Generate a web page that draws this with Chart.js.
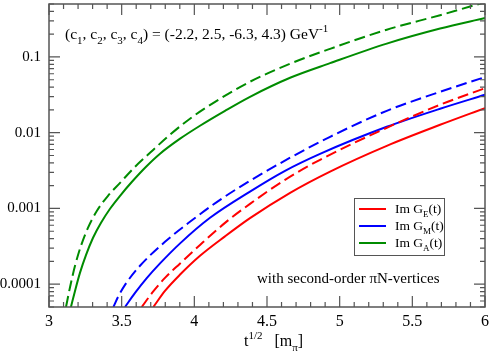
<!DOCTYPE html>
<html>
<head>
<meta charset="utf-8">
<script src="https://cdn.jsdelivr.net/npm/chart.js@4.4.1/dist/chart.umd.min.js"></script>
<style>
  html, body { margin: 0; padding: 0; background: #fff; }
</style>
</head>
<body>
<canvas id="chart" width="491" height="354"></canvas>
<script>
// sqrt(t) in units of m_pi, and Im G(t) values
const tGE = [3.718, 3.798, 3.902, 4.039, 4.211, 4.383, 4.659, 4.934, 5.324, 5.691, 6.0];
const imGE = [5.0e-5, 8.15e-5, 1.34e-4, 2.37e-4, 4.28e-4, 7.45e-4, 1.61e-3, 3.07e-3, 6.71e-3, 0.01271, 0.02113];
const tGEdash = [3.638, 3.709, 3.798, 3.902, 4.039, 4.211, 4.383, 4.624, 4.865, 5.324, 5.691, 6.0];
const imGEdash = [5.0e-5, 7.67e-5, 1.21e-4, 1.88e-4, 3.30e-4, 6.45e-4, 1.15e-3, 2.39e-3, 4.39e-3, 0.01161, 0.02339, 0.03864];

const tGM = [3.523, 3.592, 3.674, 3.764, 3.902, 4.108, 4.383, 4.624, 4.865, 5.324, 5.691, 6.0];
const imGM = [5.0e-5, 7.67e-5, 1.21e-4, 1.88e-4, 3.46e-4, 7.52e-4, 1.67e-3, 3.14e-3, 5.26e-3, 0.01197, 0.02070, 0.03167];
const tGMdash = [3.443, 3.475, 3.523, 3.626, 3.798, 3.970, 4.177, 4.383, 4.659, 4.934, 5.324, 5.691, 6.0];
const imGMdash = [5.0e-5, 6.79e-5, 9.79e-5, 1.75e-4, 3.63e-4, 6.67e-4, 1.30e-3, 2.32e-3, 4.67e-3, 8.83e-3, 0.01945, 0.03467, 0.0542];

const tGA = [3.151, 3.179, 3.213, 3.255, 3.303, 3.358, 3.420, 3.489, 3.571, 3.661, 3.764, 3.902,
             4.039, 4.211, 4.383, 4.659, 4.934, 5.324, 5.691, 6.0];
const imGA = [5.0e-5, 8.15e-5, 1.41e-4, 2.44e-4, 4.10e-4, 6.47e-4, 9.91e-4, 1.47e-3, 2.25e-3, 3.45e-3, 5.28e-3, 8.34e-3,
              0.01236, 0.01945, 0.02979, 0.0531, 0.0828, 0.150, 0.237, 0.327];
const tGAdash = [3.117, 3.145, 3.179, 3.220, 3.268, 3.330, 3.406, 3.489, 3.592, 3.695, 3.833, 3.970,
                 4.177, 4.383, 4.659, 4.934, 5.324, 5.691, 6.0];
const imGAdash = [5.0e-5, 9.2e-5, 1.75e-4, 3.21e-4, 5.55e-4, 9.31e-4, 1.47e-3, 2.18e-3, 3.55e-3, 5.43e-3, 9.41e-3, 0.01531,
                  0.02806, 0.0471, 0.0813, 0.128, 0.229, 0.356, 0.528];

const xTickValues = [3, 3.5, 4, 4.5, 5, 5.5, 6];
const xTickLabels = ['3', '3.5', '4', '4.5', '5', '5.5', '6'];
const yTickValues = [0.0001, 0.001, 0.01, 0.1];
const yTickLabels = ['0.0001', '0.001', '0.01', '0.1'];

const legendLabels = ['E', 'M', 'A'];
const colors = ['#ff0000', '#0000ff', '#008c00'];
const axisColor = '#555555';
const serif = '"Liberation Serif", "DejaVu Serif", serif';

function pts(xs, ys) {
    return xs.map((x, i) => ({ x: x, y: ys[i] }));
}

function line(xs, ys, color, dashed) {
    return {
        data: pts(xs, ys),
        borderColor: color,
        borderWidth: 2,
        borderDash: dashed ? [11, 5] : [],
        pointRadius: 0,
        fill: false,
        cubicInterpolationMode: 'monotone'
    };
}

// draws text runs with sub/superscripts, returns end x
function drawRich(ctx, parts, x, y, size) {
    parts.forEach(([txt, mode]) => {
        const fs = mode ? Math.round(size * 0.68) : size;
        ctx.font = fs + 'px ' + serif;
        let dy = 0;
        if (mode === 'sub') dy = size * 0.3;
        if (mode === 'sup') dy = -size * 0.42;
        ctx.fillText(txt, x, y + dy);
        x += ctx.measureText(txt).width;
    });
    return x;
}

const decorations = {
    id: 'decorations',
    afterDraw(chart) {
        const ctx = chart.ctx;
        const a = chart.chartArea;
        const xs = chart.scales.x, ys = chart.scales.y;
        ctx.save();

        // frame
        ctx.strokeStyle = axisColor;
        ctx.lineWidth = 1.5;
        ctx.strokeRect(a.left, a.top, a.right - a.left, a.bottom - a.top);

        // inward ticks on all four sides
        ctx.lineWidth = 1.2;
        ctx.beginPath();
        for (let v = 3; v <= 6.0001; v += 0.1) {
            const px = xs.getPixelForValue(v);
            const major = Math.abs(v * 2 - Math.round(v * 2)) < 1e-6;
            const len = major ? 11 : 5;
            ctx.moveTo(px, a.bottom); ctx.lineTo(px, a.bottom - len);
            ctx.moveTo(px, a.top); ctx.lineTo(px, a.top + len);
        }
        for (let d = -5; d <= 0; d++) {
            for (let m = 1; m <= 9; m++) {
                const v = m * Math.pow(10, d);
                if (v < ys.min * 0.999 || v > ys.max * 1.001) continue;
                const py = ys.getPixelForValue(v);
                const len = m === 1 ? 11 : 5;
                ctx.moveTo(a.left, py); ctx.lineTo(a.left + len, py);
                ctx.moveTo(a.right, py); ctx.lineTo(a.right - len, py);
            }
        }
        ctx.stroke();

        ctx.fillStyle = '#000';
        ctx.textBaseline = 'alphabetic';
        ctx.textAlign = 'left';

        // coupling constants
        drawRich(ctx, [
            ['(c', ''], ['1', 'sub'], [', c', ''], ['2', 'sub'], [', c', ''], ['3', 'sub'],
            [', c', ''], ['4', 'sub'], [') = (-2.2, 2.5, -6.3, 4.3) GeV', ''], ['-1', 'sup']
        ], 65, 39, 15.5);

        drawRich(ctx, [['with second-order \u03c0N-vertices', '']], 257, 283, 15);

        // x axis title
        drawRich(ctx, [['t', ''], ['1/2', 'sup'], ['   [m', ''], ['\u03c0', 'sub'], [']', '']], 244, 346, 16);

        // legend
        const lx = 354, ly = 198, lw = 90, lh = 57;
        ctx.fillStyle = '#fff';
        ctx.fillRect(lx, ly, lw, lh);
        ctx.strokeStyle = axisColor;
        ctx.lineWidth = 1;
        ctx.strokeRect(lx + 0.5, ly + 0.5, lw, lh);
        legendLabels.forEach((lab, i) => {
            const y = ly + 11 + i * 17;
            ctx.strokeStyle = colors[i];
            ctx.lineWidth = 2;
            ctx.beginPath();
            ctx.moveTo(lx + 5, y); ctx.lineTo(lx + 32, y);
            ctx.stroke();
            ctx.fillStyle = '#000';
            drawRich(ctx, [['Im G', ''], [lab, 'sub'], ['(t)', '']], lx + 41, y + 4, 13.5);
        });

        ctx.restore();
    }
};

new Chart(document.getElementById('chart'), {
    type: 'line',
    data: {
        datasets: [
            line(tGE, imGE, colors[0], false),
            line(tGEdash, imGEdash, colors[0], true),
            line(tGM, imGM, colors[1], false),
            line(tGMdash, imGMdash, colors[1], true),
            line(tGA, imGA, colors[2], false),
            line(tGAdash, imGAdash, colors[2], true)
        ]
    },
    options: {
        responsive: false,
        animation: false,
        layout: { padding: { top: 4, right: 6, left: 0, bottom: 0 } },
        plugins: { legend: { display: false }, tooltip: { enabled: false } },
        scales: {
            x: {
                type: 'linear',
                min: 3,
                max: 6,
                grid: { display: false, drawTicks: false },
                border: { display: false },
                afterBuildTicks: s => { s.ticks = xTickValues.map(v => ({ value: v })); },
                afterFit: s => {
                    s.height = 47;
                    s.paddingLeft = 0; s.paddingRight = 0;
                },
                ticks: {
                    padding: 5,
                    color: '#000',
                    maxRotation: 0,
                    autoSkip: false,
                    font: { family: serif, size: 16 },
                    callback: (v) => xTickLabels[xTickValues.indexOf(v)]
                }
            },
            y: {
                type: 'logarithmic',
                min: 5e-5,
                max: 0.5,
                grid: { display: false, drawTicks: false },
                border: { display: false },
                afterBuildTicks: s => { s.ticks = yTickValues.map(v => ({ value: v })); },
                afterFit: s => {
                    s.width = 49;
                    s.paddingTop = 0; s.paddingBottom = 0;
                },
                ticks: {
                    padding: 8,
                    color: '#000',
                    autoSkip: false,
                    font: { family: serif, size: 15 },
                    callback: (v) => yTickLabels[yTickValues.indexOf(v)]
                }
            }
        }
    },
    plugins: [decorations]
});
</script>
</body>
</html>
